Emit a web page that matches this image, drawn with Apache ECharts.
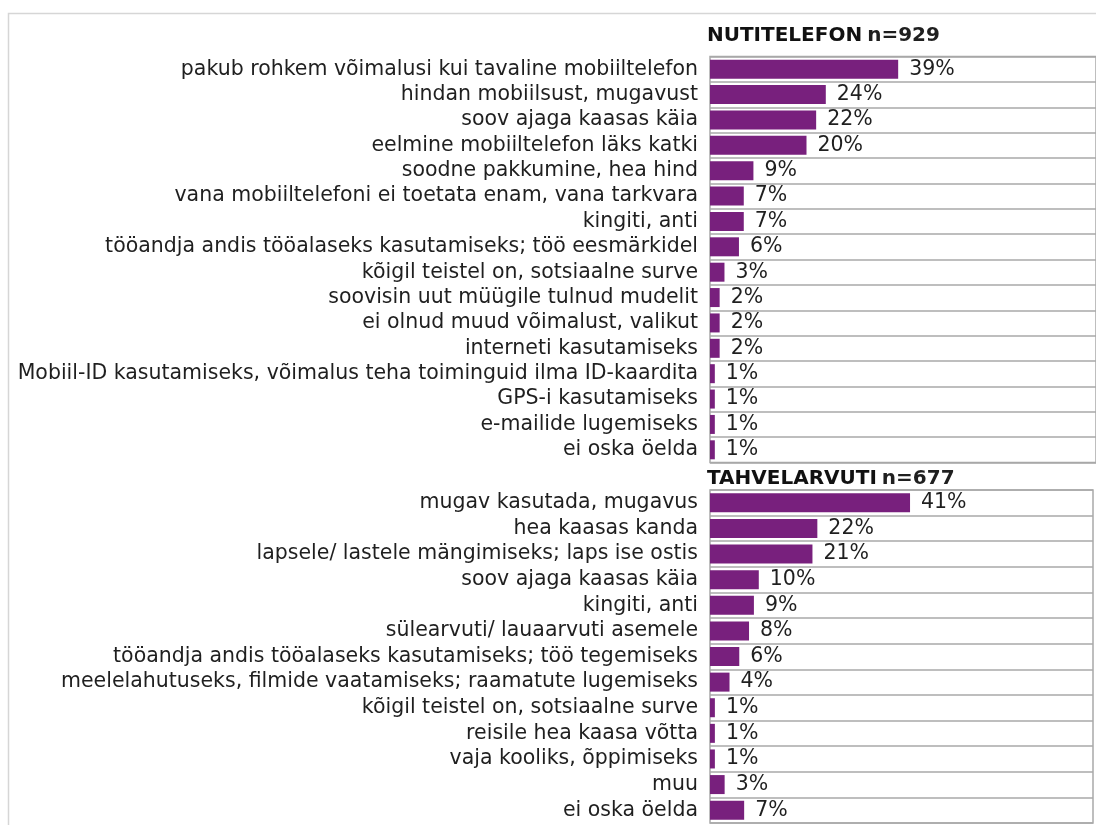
<!DOCTYPE html>
<html>
<head>
<meta charset="utf-8">
<script src="https://cdn.jsdelivr.net/npm/echarts@6/dist/echarts.min.js"></script>
<style type="text/css">
html, body {margin: 0; padding: 0; background: #fff;}
#chart {width: 1096px; height: 825px;}
</style>
</head>
<body>
<div id="chart"></div>
<script>
// NUTITELEFON n=929
var phoneTitle = 'NUTITELEFON';
var phoneN = 'n=929';
var phoneReasons = [
    'pakub rohkem võimalusi kui tavaline mobiiltelefon',
    'hindan mobiilsust, mugavust',
    'soov ajaga kaasas käia',
    'eelmine mobiiltelefon läks katki',
    'soodne pakkumine, hea hind',
    'vana mobiiltelefoni ei toetata enam, vana tarkvara',
    'kingiti, anti',
    'tööandja andis tööalaseks kasutamiseks; töö eesmärkidel',
    'kõigil teistel on, sotsiaalne surve',
    'soovisin uut müügile tulnud mudelit',
    'ei olnud muud võimalust, valikut',
    'interneti kasutamiseks',
    'Mobiil-ID kasutamiseks, võimalus teha toiminguid ilma ID-kaardita',
    'GPS-i kasutamiseks',
    'e-mailide lugemiseks',
    'ei oska öelda'
];
var phoneValues = [39, 24, 22, 20, 9, 7, 7, 6, 3, 2, 2, 2, 1, 1, 1, 1];

// TAHVELARVUTI n=677
var tabletTitle = 'TAHVELARVUTI';
var tabletN = 'n=677';
var tabletReasons = [
    'mugav kasutada, mugavus',
    'hea kaasas kanda',
    'lapsele/ lastele mängimiseks; laps ise ostis',
    'soov ajaga kaasas käia',
    'kingiti, anti',
    'sülearvuti/ lauaarvuti asemele',
    'tööandja andis tööalaseks kasutamiseks; töö tegemiseks',
    'meelelahutuseks, filmide vaatamiseks; raamatute lugemiseks',
    'kõigil teistel on, sotsiaalne surve',
    'reisile hea kaasa võtta',
    'vaja kooliks, õppimiseks',
    'muu',
    'ei oska öelda'
];
var tabletValues = [41, 22, 21, 10, 9, 8, 6, 4, 1, 1, 1, 3, 7];

var font = 'DejaVu Sans';
var fontSize = 20.5;
var textColor = '#1f1f1f';
var barColor = '#78207d';
var lineColor = '#a9a9a9';

function catAxis(idx, cats){
    return {
        type: 'category',
        gridIndex: idx,
        inverse: true,
        data: cats,
        axisLine: {show: false},
        axisTick: {show: false},
        splitLine: {show: true, interval: 0, lineStyle: {color: lineColor, width: 1.5}},
        axisLabel: {interval: 0, margin: 12, color: textColor, fontFamily: font, fontSize: fontSize}
    };
}
function valAxis(idx, max){
    return {
        type: 'value',
        gridIndex: idx,
        min: 0,
        max: max,
        show: false
    };
}
function barSeries(idx, vals){
    return {
        type: 'bar',
        xAxisIndex: idx,
        yAxisIndex: idx,
        data: vals,
        barWidth: 19,
        itemStyle: {color: barColor},
        label: {
            show: true,
            position: 'right',
            distance: 11,
            formatter: '{c}%',
            color: textColor,
            fontFamily: font,
            fontSize: fontSize
        },
        silent: true
    };
}

var myChart = echarts.init(document.getElementById('chart'));
myChart.setOption({
    animation: false,
    title: [
        {text: '{b|' + phoneTitle + '} {n|' + phoneN + '}', left: 707, top: 26},
        {text: '{b|' + tabletTitle + '} {n|' + tabletN + '}', left: 707, top: 469}
    ].map(function(t){
        t.textStyle = {
            rich: {
                b: {fontFamily: font, fontSize: 20, fontWeight: 'bold', color: '#111'},
                n: {fontFamily: font, fontSize: 20, color: textColor}
            }
        };
        t.padding = 0;
        return t;
    }),
    graphic: [{
        type: 'rect',
        shape: {x: 8.5, y: 13.5, width: 1200, height: 1000},
        style: {fill: null, stroke: '#d6d6d6', lineWidth: 1.5},
        silent: true
    }],
    grid: [
        {left: 710, top: 56.5, height: 406, right: -5, show: true, borderColor: lineColor, borderWidth: 1.5},
        {left: 710, top: 490, height: 333, right: 3, show: true, borderColor: lineColor, borderWidth: 1.5}
    ],
    xAxis: [valAxis(0, 80), valAxis(1, 78.5)],
    yAxis: [catAxis(0, phoneReasons), catAxis(1, tabletReasons)],
    series: [barSeries(0, phoneValues), barSeries(1, tabletValues)]
});
</script>
</body>
</html>
